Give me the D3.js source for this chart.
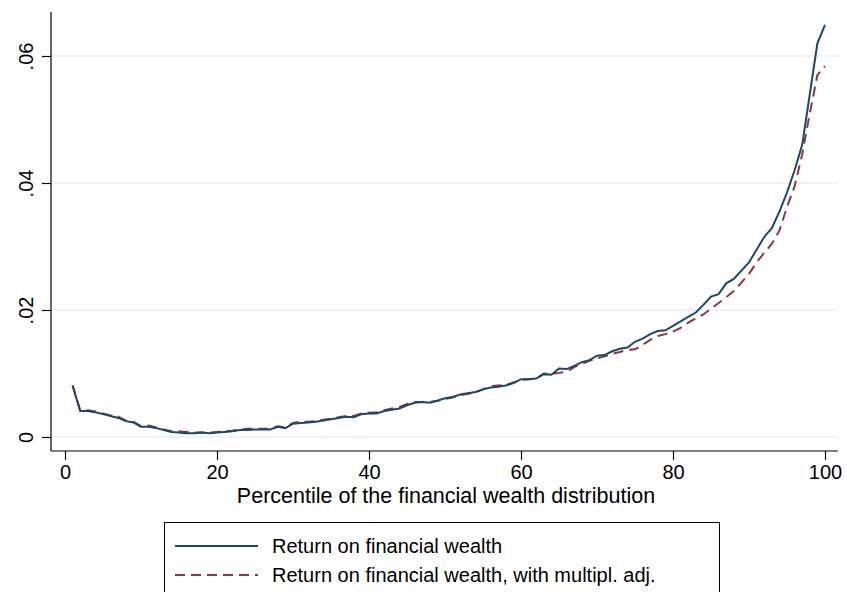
<!DOCTYPE html>
<html><head><meta charset="utf-8">
<script src="https://cdn.jsdelivr.net/npm/d3@7"></script>
<style>body{margin:0;background:#fff}svg{display:block}text{font-family:"Liberation Sans",Arial,Helvetica,sans-serif;fill:#000}</style>
</head><body>
<svg id="c" width="847" height="592"></svg>
<script>
const percentiles = d3.range(1, 101);
const returnFW = [
.0081,.0041,.0041,.0039,.0036,.0033,.0030,.0025,.0023,.0016,
.0016,.0014,.0011,.0008,.0007,.0006,.0006,.0007,.0006,.0007,
.0008,.0009,.0011,.0011,.0012,.0012,.0012,.0016,.0014,.0021,
.0022,.0023,.0024,.0026,.0028,.0030,.0032,.0031,.0036,.0037,
.0037,.0041,.0043,.0045,.0050,.0054,.0055,.0054,.0057,.0061,
.0063,.0067,.0069,.0071,.0075,.0078,.0079,.0081,.0085,.0091,
.0091,.0092,.0099,.0098,.0108,.0107,.0112,.0118,.0121,.0128,
.0129,.0135,.0139,.0141,.0150,.0155,.0162,.0167,.0168,.0175,
.0182,.0189,.0196,.0208,.0221,.0225,.0242,.0249,.0262,.0275,
.0295,.0315,.0329,.0355,.0385,.0420,.0460,.0540,.0620,.0649];
const returnFWAdj = [
.0081,.0042,.0042,.0040,.0037,.0034,.0032,.0026,.0024,.0017,
.0018,.0015,.0012,.0009,.0009,.0008,.0007,.0007,.0007,.0008,
.0009,.0010,.0012,.0013,.0013,.0013,.0013,.0017,.0015,.0022,
.0024,.0024,.0025,.0027,.0029,.0031,.0033,.0033,.0037,.0038,
.0039,.0042,.0045,.0047,.0052,.0055,.0055,.0055,.0057,.0060,
.0062,.0066,.0068,.0070,.0075,.0080,.0081,.0082,.0086,.0090,
.0091,.0092,.0100,.0099,.0101,.0103,.0110,.0115,.0120,.0124,
.0127,.0131,.0134,.0137,.0138,.0145,.0153,.0159,.0162,.0166,
.0172,.0180,.0187,.0193,.0202,.0211,.0220,.0230,.0243,.0257,
.0275,.0290,.0304,.0325,.0362,.0395,.0445,.0510,.0570,.0584];
const xTicks = [0, 20, 40, 60, 80, 100];
const yTicks = [0, 0.02, 0.04, 0.06];
const yTickLabels = ["0", ".02", ".04", ".06"];
const xTitle = "Percentile of the financial wealth distribution";
const seriesNames = ["Return on financial wealth", "Return on financial wealth, with multipl. adj."];
const colors = ["#1a476f", "#90353b"];

(function () {
const svg = d3.select("#c");
const x = d3.scaleLinear().domain([0, 100]).range([65, 825]);
const y = d3.scaleLinear().domain([0, 0.06]).range([437, 56]);
const pLeft = 51, pRight = 838, pTop = 12, pBottom = 451;
const fam = "Liberation Sans, Arial, sans-serif";

svg.append("g").selectAll("line").data(yTicks).join("line")
  .attr("x1", pLeft).attr("x2", pRight)
  .attr("y1", d => y(d)).attr("y2", d => y(d))
  .attr("stroke", "#eaf2f3").attr("stroke-width", 1.5);

svg.append("line").attr("x1", pLeft).attr("x2", pLeft).attr("y1", pTop).attr("y2", pBottom)
  .attr("stroke", "#000").attr("stroke-width", 1.2);
svg.append("line").attr("x1", pLeft).attr("x2", pRight).attr("y1", pBottom).attr("y2", pBottom)
  .attr("stroke", "#000").attr("stroke-width", 1.2);

const xAxis = svg.append("g").attr("transform", `translate(0,${pBottom})`)
  .call(d3.axisBottom(x).tickValues(xTicks).tickSize(9).tickPadding(5).tickFormat(d3.format("d")));
xAxis.select(".domain").remove();
xAxis.selectAll(".tick line").attr("stroke", "#000").attr("stroke-width", 1.2);
xAxis.selectAll(".tick text").attr("font-size", 20).attr("font-family", fam).attr("fill", "#000");

const yAxis = svg.append("g").attr("transform", `translate(${pLeft},0)`)
  .call(d3.axisLeft(y).tickValues(yTicks).tickSize(9).tickFormat((d, i) => yTickLabels[i]));
yAxis.select(".domain").remove();
yAxis.selectAll(".tick line").attr("stroke", "#000").attr("stroke-width", 1.2);
yAxis.selectAll(".tick text")
  .attr("font-size", 20).attr("font-family", fam).attr("fill", "#000")
  .attr("text-anchor", "middle").attr("dy", null).attr("x", null)
  .attr("transform", "translate(-18,0) rotate(-90)");

svg.append("text").attr("x", 446).attr("y", 503).attr("text-anchor", "middle")
  .attr("font-size", 21.5).text(xTitle);

const line = d3.line().x((d, i) => x(percentiles[i])).y(d => y(d));
svg.append("path").datum(returnFWAdj).attr("d", line).attr("fill", "none")
  .attr("stroke", colors[1]).attr("stroke-width", 2).attr("stroke-dasharray", "10,6");
svg.append("path").datum(returnFW).attr("d", line).attr("fill", "none")
  .attr("stroke", colors[0]).attr("stroke-width", 2);

const lg = svg.append("g");
lg.append("rect").attr("x", 164.5).attr("y", 522.5).attr("width", 555).attr("height", 90)
  .attr("fill", "#fff").attr("stroke", "#000").attr("stroke-width", 1);
seriesNames.forEach((s, i) => {
  const yy = 546 + i * 29;
  lg.append("line").attr("x1", 175).attr("x2", 258).attr("y1", yy).attr("y2", yy)
    .attr("stroke", colors[i]).attr("stroke-width", 2)
    .attr("stroke-dasharray", i === 1 ? "10,6" : null);
  lg.append("text").attr("x", 272).attr("y", yy + 7).attr("font-size", 20).text(s);
});
})();
</script>
</body></html>
